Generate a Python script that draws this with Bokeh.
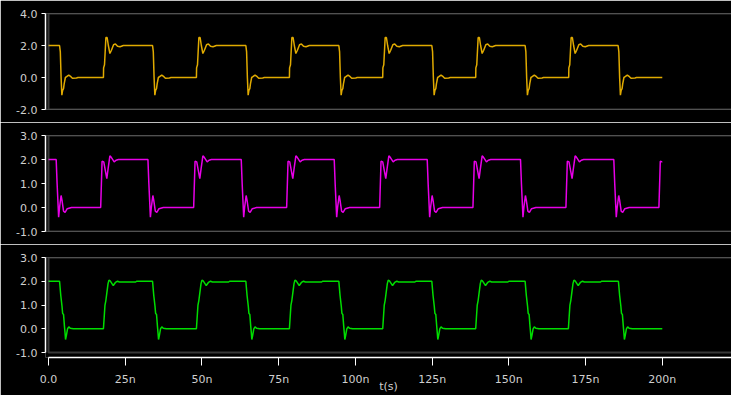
from bokeh.plotting import figure
from bokeh.layouts import column
from bokeh.models import FixedTicker, BoxAnnotation, PrintfTickFormatter
from bokeh.embed import file_html
from bokeh.resources import INLINE

# ---------------- data (times in ns) ----------------
X_TICKS = [0, 25, 50, 75, 100, 125, 150, 175, 200, 225]
X_TICK_LABELS = ["0.0", "25n", "50n", "75n", "100n", "125n", "150n", "175n", "200n", "225n"]
X_LABEL = "t(s)"
T_END = 200.0

# Panel 1 (yellow)
P1_FALLS = [3.6, 33.9, 64.3, 94.6, 124.9, 155.3, 185.6]
P1_RISES = [17.9, 48.2, 78.5, 108.9, 139.2, 169.5]
P1_FALL_DT = [0.0, 0.25, 0.5, 0.75, 1.0, 1.3, 1.5, 1.9, 2.3, 3.0, 3.7, 4.2, 5.5, 6.0]
P1_FALL_V = [2.0, 1.6, 0.0, -1.1, -0.8, -0.7, -0.4, 0.0, 0.05, 0.15, 0.05, -0.05, -0.03, 0.0]
P1_RISE_DT = [0.0, 0.05, 0.35, 0.8, 1.2, 1.6, 2.1, 2.6, 3.3, 3.9, 4.6, 5.4, 6.5]
P1_RISE_V = [0.0, 0.6, 0.8, 2.5, 2.5, 2.0, 1.5, 1.7, 2.05, 2.1, 1.95, 1.92, 2.0]

# Panel 2 (magenta)
P2_FALLS = [2.5, 32.4, 62.8, 93.1, 123.4, 153.8, 184.2]
P2_RISES = [17.0, 47.3, 77.6, 107.9, 138.3, 168.6, 198.9]
P2_FALL_DT = [0.0, 0.3, 0.8, 1.1, 1.6, 1.9, 2.4, 2.9, 3.6, 5.0]
P2_FALL_V = [2.0, 1.0, -0.4, 0.0, 0.5, 0.3, -0.15, -0.2, -0.05, 0.0]
P2_RISE_DT = [0.0, 0.45, 1.0, 2.0, 2.4, 3.0, 3.4, 4.4, 5.0, 5.8]
P2_RISE_V = [0.0, 1.93, 1.9, 1.2, 1.6, 2.15, 2.1, 1.9, 1.97, 2.0]

# Panel 3 (green)
P3_FALLS = [3.6, 33.9, 64.3, 94.6, 124.9, 155.3, 185.7]
P3_RISES = [17.9, 48.2, 78.5, 108.9, 139.2, 169.4]
P3_FALL_DT = [0.0, 0.4, 0.8, 1.0, 1.3, 1.6, 1.8, 1.95, 2.2, 2.6, 3.0, 3.5, 4.5]
P3_FALL_V = [2.0, 1.4, 0.95, 0.65, 0.6, 0.1, -0.2, -0.45, -0.3, 0.0, 0.08, 0.02, 0.0]
P3_RISE_DT = [0.0, 0.5, 0.8, 1.1, 1.5, 1.8, 2.2, 3.2, 3.9, 4.6, 5.2, 10.5, 10.8]
P3_RISE_V = [0.0, 1.0, 1.2, 1.5, 1.9, 2.05, 2.02, 1.82, 1.95, 2.0, 1.97, 1.97, 2.0]

P1_YTICKS = [-2, 0, 2, 4]
P23_YTICKS = [-1, 0, 1, 2, 3]

COLORS = ["#e0aa00", "#e800e8", "#00dd00"]


def build(falls, rises, fdt, fv, rdt, rv):
    events = [(t, fdt, fv) for t in falls] + [(t, rdt, rv) for t in rises]
    events.sort(key=lambda e: e[0])
    ts, vs = [0.0], [2.0]
    for t0, dts, vals in events:
        for d, v in zip(dts, vals):
            if t0 + d <= T_END:
                ts.append(t0 + d)
                vs.append(v)
    ts.append(T_END)
    vs.append(vs[-1])
    return ts, vs


waves = [
    build(P1_FALLS, P1_RISES, P1_FALL_DT, P1_FALL_V, P1_RISE_DT, P1_RISE_V),
    build(P2_FALLS, P2_RISES, P2_FALL_DT, P2_FALL_V, P2_RISE_DT, P2_RISE_V),
    build(P3_FALLS, P3_RISES, P3_FALL_DT, P3_FALL_V, P3_RISE_DT, P3_RISE_V),
]

FONT = "DejaVu Sans"
LABEL_COLOR = "#cfcfcf"
X_RANGE = (-0.98, 222.55)


def make_panel(i, ts, vs, yticks, yrange, height, bottom_axis):
    p = figure(
        width=731, height=height, output_backend="svg", toolbar_location=None,
        x_range=X_RANGE, y_range=yrange,
        x_axis_location="below" if bottom_axis else None,
        min_border_left=45, min_border_right=0, min_border_top=13,
        min_border_bottom=38 if bottom_axis else 13,
        background_fill_color="black", border_fill_color="black",
        outline_line_color=None,
    )
    p.grid.visible = False
    p.line(ts, vs, line_color=COLORS[i], line_width=1.5)
    p.add_layout(BoxAnnotation(left=X_TICKS[0], right=X_TICKS[-1], bottom=yticks[0], top=yticks[-1],
                               fill_alpha=0, line_color="#bcbcbc", line_width=2))
    ya = p.yaxis[0]
    ya.ticker = FixedTicker(ticks=yticks)
    ya.formatter = PrintfTickFormatter(format="%.1f")
    ya.bounds = (yticks[0], yticks[-1])
    ya.axis_line_color = "white"
    ya.axis_line_width = 1.5
    ya.major_tick_line_color = "white"
    ya.major_tick_out = 4
    ya.major_tick_in = 0
    ya.minor_tick_line_color = None
    ya.major_label_standoff = 4
    ya.major_label_text_color = LABEL_COLOR
    ya.major_label_text_font = FONT
    ya.major_label_text_font_size = "11px"
    if bottom_axis:
        xa = p.xaxis[0]
        xa.ticker = FixedTicker(ticks=X_TICKS)
        xa.major_label_overrides = {t: l for t, l in zip(X_TICKS, X_TICK_LABELS)}
        xa.bounds = (X_TICKS[0], X_TICKS[-1])
        xa.axis_line_color = "white"
        xa.axis_line_width = 1.5
        xa.major_tick_line_color = "white"
        xa.major_tick_out = 8
        xa.major_tick_in = 0
        xa.minor_tick_line_color = None
        xa.major_label_standoff = 7
        xa.major_label_text_color = LABEL_COLOR
        xa.major_label_text_font = FONT
        xa.major_label_text_font_size = "11px"
        xa.axis_label = X_LABEL
        xa.axis_label_standoff = -9
        xa.axis_label_text_color = LABEL_COLOR
        xa.axis_label_text_font = FONT
        xa.axis_label_text_font_size = "11px"
        xa.axis_label_text_font_style = "normal"
    return p


p1 = make_panel(0, *waves[0], P1_YTICKS, (-2, 4), 122, False)
p2 = make_panel(1, *waves[1], P23_YTICKS, (-1, 3), 122, False)
p3 = make_panel(2, *waves[2], P23_YTICKS, (-1 - 5 / 24, 3), 151, True)

layout = column(p1, p2, p3, spacing=0)
open("out.html", "w").write(file_html(layout, INLINE))
